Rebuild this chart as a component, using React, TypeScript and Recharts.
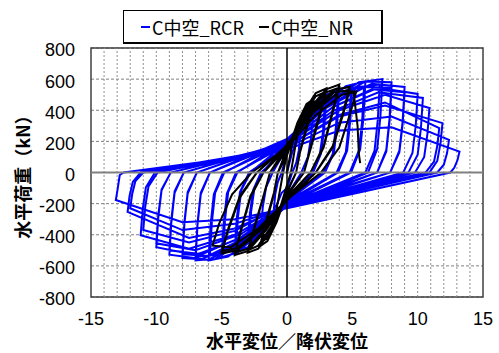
import React from 'react';
import { LineChart, Line, XAxis, YAxis, CartesianGrid, ReferenceLine, ReferenceArea } from 'recharts';

// tick labels
const xTicks = [-15, -10, -5, 0, 5, 10, 15];
const yTicks = [-800, -600, -400, -200, 0, 200, 400, 600, 800];
// minor vertical grid (every 1.0)
const xGridLines = [-14, -13, -12, -11, -10, -9, -8, -7, -6, -5, -4, -3, -2, -1, 1, 2, 3, 4, 5, 6, 7, 8, 9, 10, 11, 12, 13, 14];

// C中空_RCR : load history, one cycle per row
const rcrCycles: number[][][] = [
  [[0, 0], [0.4, 130], [0.8, 210], [1, 230], [0.9, 140], [0.7, 60], [0.4, 0], [0, -100], [-0.4, -130], [-0.8, -210], [-1, -230], [-0.9, -140], [-0.7, -60], [-0.4, 0]],
  [[0, 130], [0.8, 260], [1.5, 350], [2, 380], [1.85, 230], [1.6, 100], [1.1, 0], [0, -150], [-0.8, -260], [-1.5, -340], [-2, -370], [-1.85, -220], [-1.6, -95], [-1.1, 0]],
  [[0, 160], [1.2, 330], [2.3, 440], [3, 470], [2.85, 280], [2.6, 120], [2.0, 0], [0, -170], [-1.2, -320], [-2.3, -420], [-3, -450], [-2.85, -270], [-2.6, -115], [-2.0, 0]],
  [[0, 145], [1.2, 310], [2.3, 415], [2.9, 440], [2.75, 260], [2.5, 110], [1.9, 0], [0, -160], [-1.2, -300], [-2.3, -400], [-2.9, -425], [-2.75, -255], [-2.5, -105], [-1.9, 0]],
  [[0, 180], [1.5, 360], [3, 500], [4, 530], [3.85, 320], [3.6, 130], [2.9, 0], [0, -185], [-1.5, -350], [-3, -480], [-4, -510], [-3.85, -300], [-3.6, -125], [-2.9, 0]],
  [[0, 165], [1.5, 335], [3, 470], [3.9, 495], [3.75, 300], [3.5, 120], [2.8, 0], [0, -175], [-1.5, -330], [-3, -455], [-3.9, -480], [-3.75, -285], [-3.5, -115], [-2.8, 0]],
  [[0, 195], [2, 390], [3.8, 530], [5, 560], [4.85, 340], [4.6, 140], [3.9, 0], [0, -195], [-2, -380], [-3.8, -515], [-5, -545], [-4.85, -330], [-4.6, -135], [-3.9, 0]],
  [[0, 180], [2, 365], [3.8, 500], [4.9, 525], [4.75, 320], [4.5, 130], [3.8, 0], [0, -185], [-2, -360], [-3.8, -490], [-4.9, -515], [-4.75, -310], [-4.5, -125], [-3.8, 0]],
  [[0, 205], [2.5, 420], [4.5, 555], [6, 585], [5.85, 350], [5.6, 150], [4.9, 0], [0, -205], [-2.5, -410], [-4.5, -540], [-6, -565], [-5.85, -340], [-5.6, -140], [-4.9, 0]],
  [[0, 190], [2.5, 395], [4.5, 525], [5.9, 550], [5.75, 330], [5.5, 140], [4.8, 0], [0, -195], [-2.5, -390], [-4.5, -510], [-5.9, -535], [-5.75, -320], [-5.5, -130], [-4.8, 0]],
  [[0, 215], [3, 440], [5.5, 580], [7.3, 600], [7.15, 360], [6.9, 150], [6.2, 0], [0, -215], [-3, -430], [-5.5, -555], [-7, -565], [-6.85, -340], [-6.6, -140], [-5.9, 0]],
  [[0, 200], [3, 415], [5.5, 550], [7.1, 565], [6.95, 340], [6.7, 140], [6.0, 0], [0, -205], [-3, -410], [-5.5, -530], [-7, -540], [-6.85, -325], [-6.6, -130], [-5.9, 0]],
  [[0, 215], [3, 440], [6, 585], [8, 580], [7.85, 350], [7.6, 145], [6.9, 0], [0, -215], [-3, -430], [-6, -560], [-8, -550], [-7.85, -330], [-7.6, -135], [-6.9, 0]],
  [[0, 200], [3, 415], [6, 550], [8, 545], [7.85, 330], [7.6, 135], [6.9, 0], [0, -205], [-3, -410], [-6, -535], [-8, -525], [-7.85, -315], [-7.6, -125], [-6.9, 0]],
  [[0, 205], [3.5, 450], [6.5, 570], [9, 550], [8.85, 330], [8.6, 140], [7.9, 0], [0, -210], [-3.5, -440], [-6.5, -555], [-9, -528], [-8.85, -320], [-8.6, -130], [-7.9, 0]],
  [[0, 190], [3.5, 420], [6.5, 535], [9, 515], [8.85, 310], [8.6, 130], [7.9, 0], [0, -200], [-3.5, -415], [-6.5, -525], [-9, -500], [-8.85, -300], [-8.6, -120], [-7.9, 0]],
  [[0, 195], [3.5, 420], [7, 545], [10, 505], [9.85, 300], [9.6, 125], [8.9, 0], [0, -210], [-3.5, -420], [-7, -530], [-10, -480], [-9.85, -290], [-9.6, -115], [-8.9, 0]],
  [[0, 180], [3.5, 395], [7, 515], [10.4, 479], [10.25, 285], [10, 115], [9.3, 0], [0, -200], [-3.5, -395], [-7, -500], [-10, -455], [-9.85, -270], [-9.6, -110], [-8.9, 0]],
  [[0, 185], [4, 400], [7.5, 500], [10.9, 414], [10.75, 250], [10.5, 100], [9.8, 0], [0, -210], [-4, -400], [-7.5, -490], [-11.2, -403], [-11.05, -240], [-10.8, -95], [-10.1, 0]],
  [[0, 170], [4, 370], [7.5, 450], [11.65, 285], [11.5, 170], [11.25, 70], [10.6, 0], [0, -200], [-4, -375], [-7.5, -450], [-11, -370], [-10.85, -220], [-10.6, -90], [-9.9, 0]],
  [[0, 170], [4, 360], [7.5, 430], [11.9, 317], [11.75, 190], [11.5, 75], [10.9, 0], [0, -215], [-4, -360], [-7.5, -420], [-12.2, -253], [-12.05, -150], [-11.8, -60], [-11.2, 0]],
  [[0, 160], [4, 320], [8, 360], [12.4, 210], [12.25, 125], [12, 50], [11.5, 0], [0, -220], [-4, -330], [-8, -370], [-12, -230], [-11.85, -140], [-11.6, -55], [-11.0, 0]],
  [[0, 150], [4, 270], [8, 290], [13.2, 134], [13.05, 80], [12.8, 30], [12.5, 0], [0, -230], [-4, -300], [-8, -320], [-13.1, -177], [-12.95, -100], [-12.8, -16], [-12.5, 0], [0, 140]],
];

// C中空_NR
const nrCycles: number[][][] = [
  [[0, 0], [0.5, 230], [1, 330], [0.7, 200], [0.3, 0], [0, -80], [-0.5, -220], [-1, -320], [-0.7, -190], [-0.3, 0]],
  [[0, 120], [0.8, 320], [1.5, 440], [2, 470], [1.6, 330], [1.0, 140], [0.7, 0], [0, -130], [-0.8, -320], [-1.5, -440], [-2, -470], [-1.6, -330], [-1.0, -140], [-0.7, 0]],
  [[0, 110], [0.8, 300], [1.5, 420], [2, 450], [1.6, 310], [1.0, 130], [0.7, 0], [0, -120], [-0.8, -300], [-1.5, -420], [-2, -450], [-1.6, -310], [-1.0, -130], [-0.7, 0]],
  [[0, 150], [1.2, 380], [2.2, 510], [3, 540], [2.5, 380], [1.8, 160], [1.3, 0], [0, -150], [-1.2, -360], [-2.2, -490], [-3, -515], [-2.5, -360], [-1.8, -155], [-1.3, 0]],
  [[0, 140], [1.2, 360], [2.2, 490], [3, 520], [2.5, 360], [1.8, 150], [1.3, 0], [0, -140], [-1.2, -345], [-2.2, -470], [-3, -500], [-2.5, -350], [-1.8, -150], [-1.3, 0]],
  [[0, 170], [1.6, 400], [3, 535], [4, 565], [3.5, 400], [2.8, 170], [1.8, 0], [0, -170], [-1.6, -370], [-3, -505], [-4, -530], [-3.5, -370], [-2.8, -160], [-1.8, 0]],
  [[0, 160], [1.6, 380], [3, 515], [4, 545], [3.5, 385], [2.8, 160], [1.8, 0], [0, -160], [-1.6, -355], [-3, -490], [-4, -515], [-3.5, -360], [-2.8, -150], [-1.8, 0]],
  [[0, 180], [1.9, 400], [3.6, 530], [4.8, 550], [4.3, 390], [3.5, 170], [2.2, 0], [0, -180], [-2, -370], [-3.8, -500], [-5, -520], [-4.5, -370], [-3.6, -160], [-2.3, 0]],
  [[0, 170], [1.9, 385], [3.6, 515], [4.8, 530], [4.3, 375], [3.5, 160], [2.2, 0], [0, -170], [-2, -355], [-3.8, -485], [-5, -505], [-4.5, -360], [-3.6, -150], [-2.3, 0]],
  [[0, 175], [2.1, 390], [4, 520], [5.3, 520], [4.8, 370], [4.0, 160], [2.6, 0], [0, -175], [-2.2, -360], [-4.3, -480], [-5.7, -470], [-5.2, -330], [-4.2, -140], [-2.7, 0]],
  [[0, 160], [2.2, 370], [4.2, 500], [5.1, 515], [5.4, 300], [5.5, 120], [5.6, 60]],
];

const toPoints = (cycles: number[][][]) => cycles.flat().map(([x, y]) => ({ x, y }));
const rcrData = toPoints(rcrCycles);
const nrData = toPoints(nrCycles);

const tickStyle = { fill: '#000', fontSize: 18, fontFamily: 'Liberation Sans, Arial, sans-serif' };
const titleFont = '"Noto Sans CJK JP", sans-serif';

const YTitle = (props: any) => {
  const { x, y, height } = props.viewBox;
  const cx = x + 22;
  const cy = y + height / 2;
  return (
    <text x={cx} y={cy} transform={`rotate(-90 ${cx} ${cy})`} textAnchor="middle" dominantBaseline="central"
      fontSize={18} fontWeight="bold" fontFamily={titleFont} fill="#000">水平荷重（kN）</text>
  );
};

const XTitle = (props: any) => {
  const { x, y, width } = props.viewBox;
  return (
    <text x={x + width / 2} y={y + 43} textAnchor="middle" dominantBaseline="central"
      fontSize={18} fontWeight="bold" fontFamily={titleFont} fill="#000">水平変位／降伏変位</text>
  );
};

const LegendBox = () => (
  <div style={{
    position: 'absolute', left: 123, top: 10, width: 257, height: 31, border: '1px solid #000',
    borderRightWidth: 2, borderBottomWidth: 2, background: '#fff', display: 'flex', alignItems: 'center',
    fontFamily: titleFont, fontSize: 18, color: '#000', boxSizing: 'content-box',
  }}>
    <span style={{ display: 'inline-block', width: 9, borderTop: '2px solid #0000ff', marginLeft: 17, marginRight: 2 }} />
    <span>C中空_RCR</span>
    <span style={{ display: 'inline-block', width: 10, borderTop: '2px solid #000', marginLeft: 15, marginRight: 2 }} />
    <span>C中空_NR</span>
  </div>
);

export default function App() {
  return (
    <div style={{ position: 'absolute', left: 0, top: 0, width: 499, height: 353, background: '#fff' }}>
      <LineChart width={499} height={353} margin={{ top: 48, right: 16, bottom: 0, left: 0 }}>
        <CartesianGrid vertical={false} stroke="#808080" strokeDasharray="3 2" />
        {xGridLines.map((v) => (
          <ReferenceLine key={v} x={v} stroke="#909090" strokeDasharray="2 2" />
        ))}
        <XAxis dataKey="x" type="number" domain={[-15, 15]} ticks={xTicks} allowDataOverflow
          axisLine={false} tickLine={false} tickSize={0} tickMargin={15} height={56} tick={tickStyle}
          label={{ content: XTitle }} />
        <YAxis dataKey="y" type="number" domain={[-800, 800]} ticks={yTicks} allowDataOverflow
          axisLine={false} tickLine={false} tickSize={0} tickMargin={16} width={91} tick={{ ...tickStyle, dy: 2 }}
          label={{ content: YTitle }} />
        <Line data={rcrData} dataKey="y" type="linear" stroke="#0000ff" strokeWidth={2} dot={false} isAnimationActive={false} />
        <Line data={nrData} dataKey="y" type="linear" stroke="#000000" strokeWidth={2} dot={false} isAnimationActive={false} />
        <ReferenceLine y={0} stroke="#808080" strokeWidth={2} />
        <ReferenceLine x={0} stroke="#000" strokeWidth={1.5} />
        <ReferenceArea x1={-15} x2={15} y1={-800} y2={800} fill="none" stroke="#404040" strokeWidth={1.5} fillOpacity={0} />
      </LineChart>
      <LegendBox />
    </div>
  );
}
